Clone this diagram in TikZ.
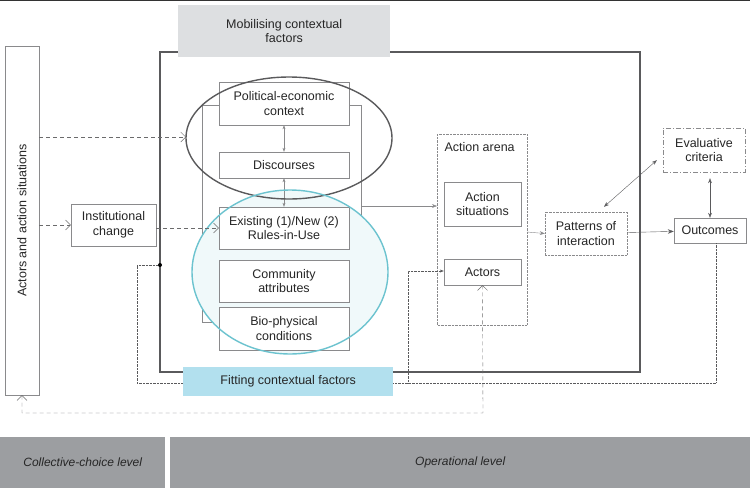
\documentclass[tikz,border=0pt]{standalone}
\usepackage{fontspec}
\setmainfont{Liberation Sans}
\usetikzlibrary{arrows.meta,positioning,calc}
\definecolor{framegray}{HTML}{5A5A5C}
\definecolor{boxgray}{HTML}{8A8A8C}
\definecolor{mobgray}{HTML}{DDDFE1}
\definecolor{fitblue}{HTML}{B2E0EE}
\definecolor{tealring}{HTML}{6CC3CF}
\definecolor{levelgray}{HTML}{9C9EA1}
\tikzset{
  txt/.style={font=\fontsize{12.5}{14.5}\selectfont, text=black!85, align=center},
  box/.style={txt, draw=boxgray, fill=white, inner sep=1pt},
  link/.style={draw=boxgray, -{Stealth[length=5pt]}},
  dlink/.style={draw=framegray!90, dashed, dash pattern=on 4pt off 3pt, -{Straight Barb[length=5pt]}},
  dotlink/.style={draw=framegray, densely dotted},
}
\begin{document}
\begin{tikzpicture}[x=1pt,y=-1pt]
\useasboundingbox (0,0) rectangle (750,488);
\draw[black!80, line width=1.5pt] (0,0.5) -- (750,0.5);
% frame and title boxes
\draw[framegray, line width=1.4pt] (160,52) rectangle (640,372);
\node[txt, fill=mobgray, minimum width=212pt, minimum height=52pt, anchor=north west] (mob) at (178,5) {Mobilising contextual\\factors};
% contextual column
\draw[boxgray, thin] (202,105) rectangle (361,322);
\fill[tealring!10] (290,272) ellipse [x radius=98, y radius=82];
\node[box, minimum width=130pt, minimum height=43pt] (pol) at (284,103.5) {Political-economic\\context};
\node[box, minimum width=130pt, minimum height=26pt] (disc) at (284,165) {Discourses};
\node[box, minimum width=130pt, minimum height=42pt] (rules) at (284,228) {Existing (1)/New (2)\\Rules-in-Use};
\node[box, minimum width=130pt, minimum height=42pt] (comm) at (284,281) {Community\\attributes};
\node[box, minimum width=130pt, minimum height=43pt] (bio) at (284,328.5) {Bio-physical\\conditions};
\draw[boxgray, {Stealth[length=4pt]}-{Stealth[length=4pt]}] (pol) -- (disc);
\draw[boxgray, {Stealth[length=4pt]}-{Stealth[length=4pt]}] (disc) -- (rules);
\draw[framegray, line width=1.4pt] (289,138) ellipse [x radius=103, y radius=61];
\draw[tealring, line width=1.4pt] (290,272) ellipse [x radius=98, y radius=82];
\coordinate (ringW) at (186,137);
% left side
\node[txt, draw=boxgray, minimum width=349pt, minimum height=34pt, rotate=90] (actsit) at (22,220.5) {Actors and action situations};
\node[box, minimum width=85pt, minimum height=42pt] (inst) at (113.5,225) {Institutional\\change};
% action arena
\draw[boxgray, densely dotted] (437,134) rectangle (527,325);
\node[txt, anchor=west] (arena) at (441,147) {Action arena};
\node[box, minimum width=77pt, minimum height=44pt] (sit) at (482.5,204) {Action\\situations};
\node[box, minimum width=77pt, minimum height=26pt] (act) at (482.5,272) {Actors};
\node[box, densely dotted, minimum width=82pt, minimum height=43pt] (pat) at (586,233.5) {Patterns of\\interaction};
\node[box, dash pattern=on 5pt off 2pt on 1pt off 2pt, minimum width=82pt, minimum height=44pt] (eval) at (704,150) {Evaluative\\criteria};
\node[box, minimum width=72pt, minimum height=25pt] (out) at (710,230.5) {Outcomes};
% levels
\node[txt, font=\fontsize{12}{14}\selectfont\itshape, fill=levelgray, minimum width=165pt, minimum height=51pt, anchor=north west] (coll) at (0,437) {Collective-choice level};
\node[txt, font=\fontsize{12}{14}\selectfont\itshape, fill=levelgray, minimum width=580pt, minimum height=51pt, anchor=north west] (oper) at (170,437) {Operational level};
% connectors
\draw[dlink] (actsit.south |- ringW) -- (ringW);
\draw[dlink] (actsit.south |- inst) -- (inst);
\draw[dlink] (inst.east |- rules.west) -- (rules.west);
\draw[link] (361,206) -- (437,206);
\draw[link] (527,232) -- (pat.west);
\draw[draw=framegray, -{Stealth[length=6pt]}] (pat) -- (out);
\draw[framegray, {Stealth[length=5pt]}-{Stealth[length=5pt]}] ($(pat.north)+(18,-5)$) -- ($(eval.south west)+(-6,-12)$);
\draw[framegray, {Stealth[length=5pt]}-{Stealth[length=5pt]}] ($(eval.south)+(6,6)$) -- (out.north -| 710,0);
\coordinate (loopR) at (716,383);
\coordinate (loopL) at (137,383);
\draw[dotlink] (out.south -| loopR) -- (loopR) -- (loopL) -- (137,265) -- (158,265);
\fill[black] (160,265) circle (2pt);
\draw[dotlink, -{Stealth[length=4pt]}] (408,383) -- (408,271) -- (act.west |- 0,271);
\coordinate (backR) at (483,413);
\coordinate (backL) at (22,413);
\draw[dlink, {Straight Barb[length=5pt]}-{Straight Barb[length=5pt]}] (actsit.west) -- (backL) -- (backR) -- (act.south);
\node[txt, fill=fitblue, minimum width=210pt, minimum height=29pt, anchor=north west] (fit) at (183,367) {Fitting contextual factors};
\end{tikzpicture}
\end{document}
